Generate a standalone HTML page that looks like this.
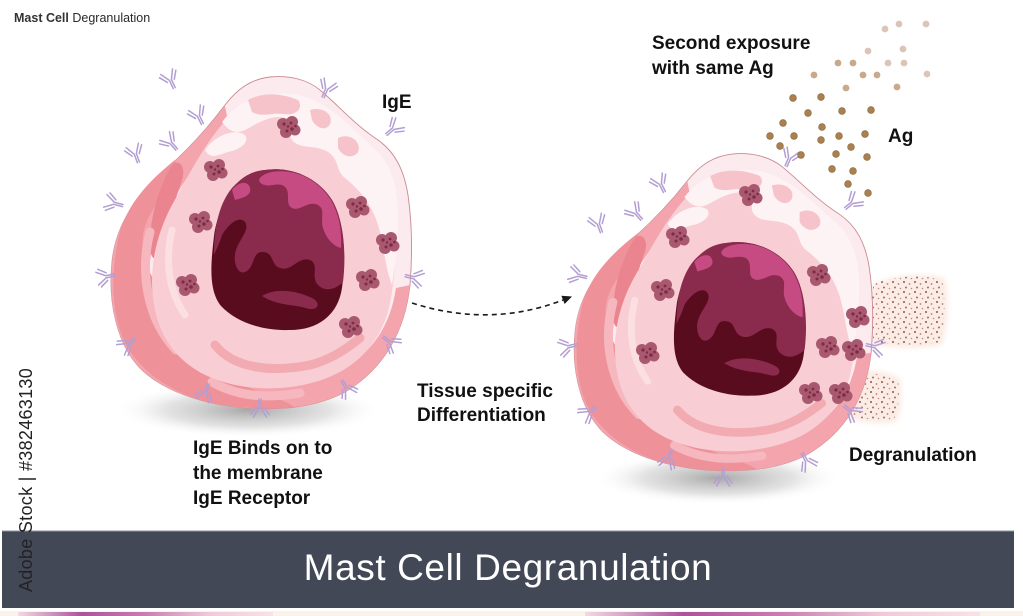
<!DOCTYPE html>
<html><head><meta charset="utf-8"><style>
html,body{margin:0;padding:0;background:#fff;}
svg{display:block;}
text{font-family:"Liberation Sans",Arial,sans-serif;}
</style></head><body>
<svg width="1023" height="616" viewBox="0 0 1023 616" xmlns="http://www.w3.org/2000/svg">
<defs>
  <radialGradient id="sh" cx="0.5" cy="0.5" r="0.5">
    <stop offset="0" stop-color="#7a7a7a" stop-opacity="0.65"/>
    <stop offset="0.6" stop-color="#a0a0a0" stop-opacity="0.3"/>
    <stop offset="1" stop-color="#ffffff" stop-opacity="0"/>
  </radialGradient>
  <pattern id="dp" width="11" height="10" patternUnits="userSpaceOnUse">
    <circle cx="2" cy="2" r="1.1" fill="#a86868"/>
    <circle cx="7.5" cy="4" r="0.9" fill="#b87a78"/>
    <circle cx="4" cy="7.5" r="1" fill="#a86868"/>
    <circle cx="9.5" cy="8.5" r="0.8" fill="#c08c88"/>
  </pattern>
  <filter id="bl" x="-20%" y="-20%" width="140%" height="140%"><feGaussianBlur stdDeviation="2.5"/></filter>
  <linearGradient id="strip" x1="0" x2="1" y1="0" y2="0">
    <stop offset="0" stop-color="#f3d9e2"/>
    <stop offset="0.25" stop-color="#a8559a"/>
    <stop offset="0.5" stop-color="#c77fb0"/>
    <stop offset="0.75" stop-color="#f0c9d8"/>
    <stop offset="1" stop-color="#f6e3e6"/>
  </linearGradient>

  <g id="ab" fill="none" stroke="#b39ed3" stroke-width="1.5" stroke-linecap="round">
    <path d="M-1.1,10 V1 L-6.5,-8 M1.1,10 V1 L6.5,-8 M-3.8,2 L-9,-5.5 M3.8,2 L9,-5.5"/>
  </g>

  <g id="gr">
    <g fill="#a9596f">
      <circle cx="-5" cy="-3" r="6"/><circle cx="4" cy="-5" r="6"/><circle cx="7" cy="3" r="5.5"/>
      <circle cx="-2" cy="5" r="6"/><circle cx="0" cy="0" r="6"/>
    </g>
    <g fill="#7d2b47">
      <circle cx="-4" cy="-3" r="1.6"/><circle cx="3" cy="-4" r="1.4"/><circle cx="4" cy="2" r="1.8"/>
      <circle cx="-1" cy="4" r="1.5"/><circle cx="7.5" cy="-1" r="1.3"/><circle cx="0" cy="-0.5" r="1.2"/>
    </g>
  </g>

  <g id="cell">
    <path d="M270,77 C290,75 308,80 320,90 C338,105 355,125 378,140 C395,152 404,170 408,195 C413,230 412,260 410,285 C405,330 385,368 345,392 C315,408 280,410 245,408 C200,404 162,390 140,368 C116,343 108,300 112,262 C116,222 138,195 165,170 C190,148 210,125 225,105 C238,88 252,79 270,77 Z" fill="#fcebee" stroke="#c98a90" stroke-width="0.9"/>
    <!-- salmon band left & bottom -->
    <path d="M225,106 C210,125 190,148 165,170 C138,195 116,222 112,262 C108,300 116,343 140,368 C162,390 200,404 245,408 C280,410 315,408 345,392 C385,368 405,330 410,285 L396,288 C390,328 370,355 340,370 C300,388 250,390 210,378 C175,365 155,335 150,300 C146,265 152,235 170,205 C185,180 205,150 228,122 Z" fill="#f3a4ac"/>
    <path d="M175,160 C150,180 125,205 118,240 C110,280 112,320 128,348 C145,375 175,395 215,404 C240,408 270,410 295,407 C280,398 265,395 250,388 C230,380 220,368 205,365 C190,360 175,350 168,335 C160,320 170,305 160,290 C150,275 140,255 143,235 C146,215 160,200 170,185 C176,176 178,168 175,160 Z" fill="#ee9199"/>
    <path d="M172,165 C160,185 150,215 150,245 C150,262 158,262 162,250 C168,225 175,200 182,180 C186,168 180,158 172,165 Z" fill="#ea858f"/>
    <path d="M150,232 C140,270 146,318 176,350" fill="none" stroke="#f6b7be" stroke-width="9" stroke-linecap="round"/>
    <path d="M212,382 C240,398 270,398 300,393" fill="none" stroke="#f6b7be" stroke-width="9" stroke-linecap="round"/>
    <!-- inner pink zone -->
    <path d="M258,100 C285,95 318,112 340,135 C362,155 385,165 392,195 C398,235 396,280 388,312 C376,350 350,372 315,382 C280,392 242,390 212,378 C180,365 160,340 154,305 C148,270 156,235 172,205 C192,170 222,106 258,100 Z" fill="#f8cdd3"/>
    <path d="M215,345 C235,370 275,372 310,365 C330,360 345,350 360,338" fill="none" stroke="#f3abb2" stroke-width="9" stroke-linecap="round"/>
    <path d="M172,230 C165,260 168,290 185,315" fill="none" stroke="#fbdfe3" stroke-width="7" stroke-linecap="round"/>
    <!-- white highlights -->
    <path d="M222,122 C240,98 270,90 300,95 C330,104 350,126 370,145 C390,160 398,185 398,215 C398,245 395,265 392,285 C385,268 384,245 378,225 C372,205 360,190 345,178 C335,170 340,160 328,152 C315,144 300,150 292,140 C285,130 298,122 285,118 C270,114 255,125 245,130 C235,135 228,130 222,122 Z" fill="#fdf2f4"/>
    <path d="M248,100 C262,92 282,93 298,100 C304,108 296,116 284,114 C272,112 262,118 252,112 Z" fill="#f6c3ca"/>
    <path d="M310,110 C322,106 334,114 330,124 C326,132 316,128 312,120 Z" fill="#f6c3ca"/>
    <path d="M205,150 C215,135 235,128 245,135 C250,142 240,150 228,152 C218,155 210,160 205,150 Z" fill="#fdf2f4"/>
    <path d="M338,138 C350,132 362,142 358,152 C352,160 342,156 338,148 Z" fill="#f6c3ca"/>
    <!-- nucleus -->
    <path d="M265,170 C292,166 318,178 332,200 C345,222 346,258 342,288 C338,315 318,330 290,330 C262,331 236,322 221,306 C208,290 211,262 214,236 C218,205 238,173 265,170 Z" fill="#5a0c1f"/>
    <path d="M265,170 C292,166 318,178 332,200 C345,222 346,258 343,282 C335,290 325,292 318,285 C310,276 320,265 310,260 C298,256 292,272 280,268 C270,265 275,252 262,252 C252,252 255,268 245,272 C238,275 232,262 236,250 C240,238 250,230 245,222 C240,216 230,222 222,235 C219,245 216,250 214,255 C214,230 218,205 232,188 C243,176 252,171 265,170 Z" fill="#8a2b4d"/>
    <path d="M262,296 C275,288 295,290 312,298 C322,303 318,312 306,308 C292,304 278,306 262,296 Z" fill="#8a2b4d"/>
    <path d="M272,172 C296,168 318,180 331,200 C339,214 342,230 341,248 C333,246 326,238 323,228 C320,218 326,210 318,205 C308,200 300,212 292,208 C284,204 292,192 284,186 C276,182 270,188 262,184 C255,180 262,174 272,172 Z" fill="#c54b82"/>
    <path d="M232,190 C238,182 248,180 250,188 C252,196 242,198 235,200 Z" fill="#c54b82"/>
  </g>
</defs>

<!-- shadows -->
<ellipse cx="248" cy="410" rx="135" ry="28" fill="url(#sh)"/>
<ellipse cx="718" cy="478" rx="125" ry="27" fill="url(#sh)"/>

<!-- degranulation patches -->
<g filter="url(#bl)">
  <path d="M872,285 C890,275 920,272 945,278 C950,300 948,325 942,345 C920,350 895,348 872,345 C868,325 866,300 872,285 Z" fill="#fbede5"/>
  <path d="M850,375 C865,368 885,370 900,378 C903,395 902,410 896,422 C880,425 862,423 848,418 C846,405 846,390 850,375 Z" fill="#fbede5"/>
</g>
<path d="M874,284 C892,276 920,274 942,280 C946,300 945,324 940,342 C920,346 895,345 874,342 C870,325 869,300 874,284 Z" fill="url(#dp)"/>
<path d="M852,377 C866,371 884,373 898,380 C900,395 899,408 894,419 C880,421 864,420 850,415 C848,404 848,390 852,377 Z" fill="url(#dp)"/>

<!-- left cell -->
<use href="#cell"/>
<use href="#gr" x="288" y="127"/>
<use href="#gr" x="215" y="170"/>
<use href="#gr" x="200" y="222"/>
<use href="#gr" x="357" y="207"/>
<use href="#gr" x="387" y="243"/>
<use href="#gr" x="367" y="280"/>
<use href="#gr" x="187" y="285"/>
<use href="#gr" x="350" y="327"/>

<!-- left antibodies -->
<use href="#ab" transform="translate(170,79) rotate(-25)"/>
<use href="#ab" transform="translate(327,88) rotate(23)"/>
<use href="#ab" transform="translate(198,115) rotate(-26)"/>
<use href="#ab" transform="translate(170,142) rotate(-42)"/>
<use href="#ab" transform="translate(135,153) rotate(-20)"/>
<use href="#ab" transform="translate(113,203) rotate(-75)"/>
<use href="#ab" transform="translate(105,277) rotate(-102)"/>
<use href="#ab" transform="translate(127,345) rotate(-127)"/>
<use href="#ab" transform="translate(205,393) rotate(-160)"/>
<use href="#ab" transform="translate(260,409) rotate(180)"/>
<use href="#ab" transform="translate(347,389) rotate(149)"/>
<use href="#ab" transform="translate(391,343) rotate(128)"/>
<use href="#ab" transform="translate(415,278) rotate(103)"/>
<use href="#ab" transform="translate(394,128) rotate(49)"/>

<!-- right cell -->
<g transform="matrix(0.993,0,0,0.955,464,80.5)"><use href="#cell"/></g>
<use href="#gr" x="750" y="195"/>
<use href="#gr" x="677" y="237"/>
<use href="#gr" x="662" y="290"/>
<use href="#gr" x="818" y="275"/>
<use href="#gr" x="857" y="317"/>
<use href="#gr" x="827" y="347"/>
<use href="#gr" x="853" y="350"/>
<use href="#gr" x="810" y="393"/>
<use href="#gr" x="840" y="393"/>
<use href="#gr" x="647" y="353"/>

<use href="#ab" transform="translate(660,183) rotate(-26)"/>
<use href="#ab" transform="translate(635,212) rotate(-41)"/>
<use href="#ab" transform="translate(598,223) rotate(-20)"/>
<use href="#ab" transform="translate(577,275) rotate(-76)"/>
<use href="#ab" transform="translate(567,347) rotate(-103)"/>
<use href="#ab" transform="translate(588,413) rotate(-127)"/>
<use href="#ab" transform="translate(668,460) rotate(-160)"/>
<use href="#ab" transform="translate(723,478) rotate(180)"/>
<use href="#ab" transform="translate(807,462) rotate(151)"/>
<use href="#ab" transform="translate(852,412) rotate(128)"/>
<use href="#ab" transform="translate(876,347) rotate(103)"/>
<use href="#ab" transform="translate(853,202) rotate(50)"/>
<use href="#ab" transform="translate(790,157) rotate(23)"/>

<!-- antigen dots -->
<g fill="#dcc5b8">
  <circle cx="885" cy="29" r="3.4"/><circle cx="899" cy="24" r="3.4"/><circle cx="926" cy="24" r="3.4"/>
  <circle cx="868" cy="51" r="3.4"/><circle cx="903" cy="49" r="3.4"/><circle cx="888" cy="63" r="3.4"/>
  <circle cx="904" cy="63" r="3.4"/><circle cx="927" cy="74" r="3.4"/>
</g>
<g fill="#c9a98c">
  <circle cx="838" cy="63" r="3.4"/><circle cx="853" cy="63" r="3.4"/><circle cx="863" cy="75" r="3.4"/>
  <circle cx="877" cy="75" r="3.4"/><circle cx="814" cy="75" r="3.4"/><circle cx="846" cy="88" r="3.4"/>
  <circle cx="897" cy="87" r="3.4"/>
</g>
<g fill="#a98050" stroke="#8a6438" stroke-width="0.6">
  <circle cx="793" cy="98" r="3.4"/><circle cx="821" cy="97" r="3.4"/><circle cx="808" cy="113" r="3.4"/>
  <circle cx="842" cy="111" r="3.4"/><circle cx="871" cy="110" r="3.4"/><circle cx="783" cy="123" r="3.4"/>
  <circle cx="822" cy="127" r="3.4"/><circle cx="770" cy="136" r="3.4"/><circle cx="794" cy="136" r="3.4"/>
  <circle cx="821" cy="140" r="3.4"/><circle cx="839" cy="136" r="3.4"/><circle cx="865" cy="134" r="3.4"/>
  <circle cx="780" cy="146" r="3.4"/><circle cx="851" cy="147" r="3.4"/><circle cx="801" cy="155" r="3.4"/>
  <circle cx="836" cy="154" r="3.4"/><circle cx="867" cy="157" r="3.4"/><circle cx="832" cy="169" r="3.4"/>
  <circle cx="853" cy="171" r="3.4"/><circle cx="848" cy="184" r="3.4"/><circle cx="868" cy="193" r="3.4"/>
</g>

<!-- dashed arrow -->
<path d="M412,303 Q490,328 563,300" fill="none" stroke="#1a1a1a" stroke-width="1.6" stroke-dasharray="5,4"/>
<polygon points="572,296.5 564.6,304 561.4,295.8" fill="#1a1a1a"/>

<!-- labels -->
<text x="14" y="22" font-size="12.5" fill="#2a2a2a"><tspan font-weight="bold" fill="#333">Mast Cell</tspan> Degranulation</text>
<g font-size="19" font-weight="bold" fill="#111">
  <text x="382" y="108">IgE</text>
  <text x="652" y="49">Second exposure</text>
  <text x="652" y="74">with same Ag</text>
  <text x="888" y="142">Ag</text>
  <text x="417" y="397">Tissue specific</text>
  <text x="417" y="421">Differentiation</text>
  <text x="193" y="454">IgE Binds on to</text>
  <text x="193" y="479">the membrane</text>
  <text x="193" y="504">IgE Receptor</text>
  <text x="849" y="461">Degranulation</text>
</g>

<!-- banner -->
<rect x="2" y="531" width="1012" height="77" fill="#434857"/>
<line x1="2" y1="531" x2="1014" y2="531" stroke="#8d93a0" stroke-width="1"/>
<text x="508" y="580" font-size="37" fill="#ffffff" text-anchor="middle" letter-spacing="0.6">Mast Cell Degranulation</text>

<!-- bottom strip -->
<rect x="0" y="611" width="1023" height="5" fill="#fbf3ea"/>
<rect x="18" y="612" width="255" height="4" fill="url(#strip)"/>
<rect x="585" y="612" width="395" height="4" fill="url(#strip)"/>

<!-- vertical watermark text -->
<text transform="translate(32,592) rotate(-90)" font-size="18" fill="#222" letter-spacing="0.3">Adobe Stock | #382463130</text>
</svg>
</body></html>
